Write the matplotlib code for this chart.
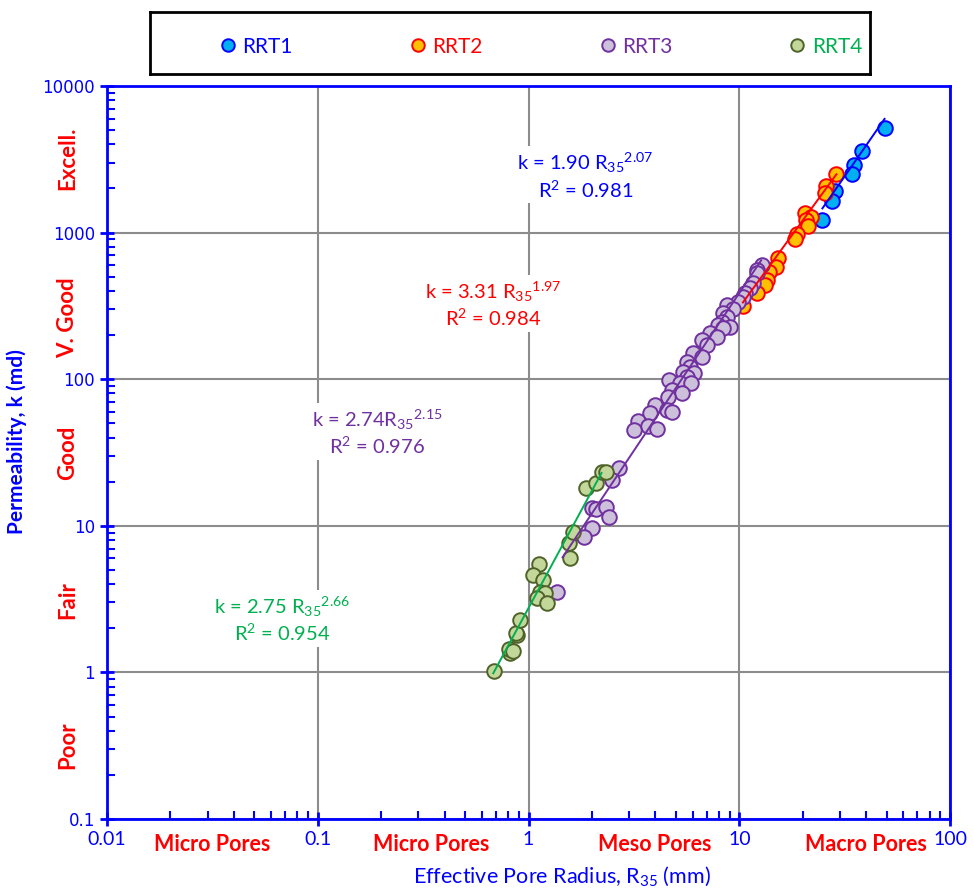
import matplotlib
matplotlib.use("Agg")
import matplotlib.pyplot as plt
import matplotlib.ticker as mticker
from matplotlib.lines import Line2D
import numpy as np

plt.rcParams['font.family'] = ['Lato', 'DejaVu Sans']
plt.rcParams['mathtext.fontset'] = 'custom'
plt.rcParams['mathtext.rm'] = 'Lato'
plt.rcParams['mathtext.it'] = 'Lato:italic'
plt.rcParams['mathtext.bf'] = 'Lato:bold'

# ---- data ----
rrt1_r = [48.9, 38.4, 35.2, 34.1, 28.3, 27.4, 24.8]
rrt1_k = [5190, 3606, 2893, 2511, 1926, 1648, 1222]

rrt2_r = [28.9, 25.7, 25.4, 20.4, 21.8, 20.8, 21.3, 18.7, 18.4, 15.2, 14.9,
          13.9, 13.6, 13.3, 12.2, 10.4]
rrt2_k = [2511, 2083, 1868, 1364, 1282, 1222, 1112, 982, 908, 673, 584,
          540, 477, 441, 388, 317]

rrt3_r = [12.75, 12.2, 12.1, 11.6, 11.2, 10.7, 10.4, 9.81, 8.70, 9.29, 8.33,
          8.70, 8.24, 7.89, 8.99, 8.33, 7.23, 7.80, 6.62, 6.99, 6.00, 6.62,
          5.62, 5.81, 5.38, 6.13, 5.62, 4.62, 5.21, 5.93, 4.77, 5.32, 4.57,
          3.96, 4.52, 3.75, 4.77, 3.29, 3.67, 4.05, 3.18, 2.70, 2.50, 2.01,
          2.10, 2.34, 2.42, 1.99, 1.84, 1.37]
rrt3_k = [603, 557, 532, 455, 421, 389, 365, 337, 322, 302, 284,
          267, 247, 235, 228, 224, 207, 195, 186, 172, 151, 142,
          131, 122, 112, 111, 104, 99, 94.6, 94.6, 84.8, 80.8, 75.9,
          66.9, 61.8, 59.0, 60.0, 52.0, 48.1, 45.9, 45.1, 24.9, 20.6, 13.3,
          13.1, 13.5, 11.4, 9.7, 8.4, 3.55]

rrt4_r = [0.682, 0.821, 0.804, 0.840, 0.877, 0.868, 0.906, 1.115, 1.045, 1.165,
          1.128, 1.191, 1.091, 1.217, 1.565, 1.548, 1.618, 1.865, 2.10, 2.22, 2.34]
rrt4_k = [1.03, 1.36, 1.45, 1.40, 1.81, 1.86, 2.29, 5.51, 4.63, 4.28,
          3.55, 3.49, 3.23, 2.98, 6.05, 7.66, 9.10, 18.2, 19.7, 23.4, 23.4]

# power-law fits (a, b) and the R35 span of each trend line
fit_a = [1.90, 3.31, 2.74, 2.75]
fit_b = [2.07, 1.97, 2.15, 2.66]
fit_r0 = [24.8, 10.4, 1.45, 0.68]
fit_r1 = [48.9, 28.9, 12.7, 2.22]

names = ['RRT1', 'RRT2', 'RRT3', 'RRT4']
fills = ['#00B0F0', '#FFC000', '#CCC0DA', '#C4D79B']
edges = ['#0000FF', '#FF0000', '#7030A0', '#4F6228']
txtcol = ['#0000FF', '#FF0000', '#7030A0', '#00B050']
linecol = ['#0000FF', '#FF0000', '#7030A0', '#00B050']

eq_text = [r'k = 1.90 R$_{35}{}^{2.07}$' + '\n' + r'R$^{2}$ = 0.981',
           r'k = 3.31 R$_{35}{}^{1.97}$' + '\n' + r'R$^{2}$ = 0.984',
           r'k = 2.74R$_{35}{}^{2.15}$' + '\n' + r'R$^{2}$ = 0.976',
           r'k = 2.75 R$_{35}{}^{2.66}$' + '\n' + r'R$^{2}$ = 0.954']
eq_x = [1.86, 0.68, 0.192, 0.068]
eq_y = [2440, 322, 43.2, 2.29]

pore_lbl = ['Micro Pores', 'Micro Pores', 'Meso Pores', 'Macro Pores']
pore_x = [0.0316, 0.345, 3.96, 40.0]
perm_lbl = ['Excell.', 'V. Good', 'Good', 'Fair', 'Poor']
perm_y = [3240, 263, 31.5, 3.1, 0.32]

xs = [rrt1_r, rrt2_r, rrt3_r, rrt4_r]
ys = [rrt1_k, rrt2_k, rrt3_k, rrt4_k]

fig = plt.figure(figsize=(9.74, 8.94), dpi=100)
ax = fig.add_axes([0.1099, 0.0839, 0.8655, 0.8199])
ax.set_xscale('log')
ax.set_yscale('log')
ax.set_xlim(0.01, 100)
ax.set_ylim(0.1, 10000)

ax.grid(True, which='major', color='#8c8c8c', linewidth=1.5, zorder=0)
ax.set_axisbelow(True)

handles = []
for i in range(4):
    ax.plot(xs[i], ys[i], 'o', ms=10.5, mfc=fills[i], mec=edges[i], mew=1.4,
            zorder=3 + i)
    rr = np.linspace(fit_r0[i], fit_r1[i], 50)
    ax.plot(rr, fit_a[i] * rr ** fit_b[i], color=linecol[i], lw=1.4, zorder=8)
    handles.append(Line2D([], [], marker='o', ls='', ms=9, mfc=fills[i],
                          mec=edges[i], mew=1.4))

for i in range(4):
    ax.text(eq_x[i], eq_y[i], eq_text[i], color=txtcol[i], fontsize=14.5,
            ha='center', va='center', linespacing=1.2, zorder=9,
            bbox=dict(facecolor='white', edgecolor='none', pad=2))

# axes styling
for s in ax.spines.values():
    s.set_color('#0000FF')
    s.set_linewidth(2)
ax.xaxis.set_major_locator(mticker.LogLocator(base=10, numticks=10))
ax.yaxis.set_major_locator(mticker.LogLocator(base=10, numticks=10))
ax.xaxis.set_minor_locator(mticker.LogLocator(base=10, subs=np.arange(2, 10), numticks=20))
ax.yaxis.set_minor_locator(mticker.LogLocator(base=10, subs=np.arange(2, 10), numticks=20))
ax.xaxis.set_minor_formatter(mticker.NullFormatter())
ax.yaxis.set_minor_formatter(mticker.NullFormatter())
ax.xaxis.set_major_formatter(mticker.FuncFormatter(lambda v, p: f'{v:g}'))
ax.yaxis.set_major_formatter(mticker.FuncFormatter(lambda v, p: f'{v:g}'))
ax.tick_params(which='major', direction='inout', length=10, width=2,
               color='#0000FF', labelcolor='#0000FF')
ax.tick_params(which='minor', direction='in', length=6, width=1.5,
               color='#0000FF')
ax.tick_params(axis='x', labelsize=14, pad=4)
ax.tick_params(axis='y', labelsize=12)
for lab in ax.get_yticklabels():
    lab.set_fontfamily('DejaVu Sans')

for i in range(len(pore_lbl)):
    ax.text(pore_x[i], -0.021, pore_lbl[i], color='#FF0000', fontsize=15.5,
            fontweight='bold', ha='center', va='top',
            transform=ax.get_xaxis_transform())
for i in range(len(perm_lbl)):
    ax.text(-0.047, perm_y[i], perm_lbl[i], color='#FF0000', fontsize=16,
            fontweight='bold', ha='center', va='center', rotation=90,
            transform=ax.get_yaxis_transform())

ax.set_xlabel(r'Effective Pore Radius, R$_{35}$ (mm)', color='#0000FF',
              fontsize=15.5)
ax.xaxis.set_label_coords(0.54, -0.062)
ax.set_ylabel('Permeability, k (md)', color='#0000FF', fontsize=15,
              fontweight='bold')
ax.yaxis.set_label_coords(-0.095, 0.515)

# legend box
lax = fig.add_axes([0.154, 0.9172, 0.739, 0.0694])
lax.set_xticks([])
lax.set_yticks([])
for s in lax.spines.values():
    s.set_color('black')
    s.set_linewidth(2)
lax.legend(handles, names, loc='center', bbox_to_anchor=(0.543, 0.44),
           ncol=4, frameon=False, fontsize=15, labelcolor=txtcol,
           handlelength=0.8, handletextpad=0.3, columnspacing=5.6)

fig.savefig('out.png', dpi=100)
